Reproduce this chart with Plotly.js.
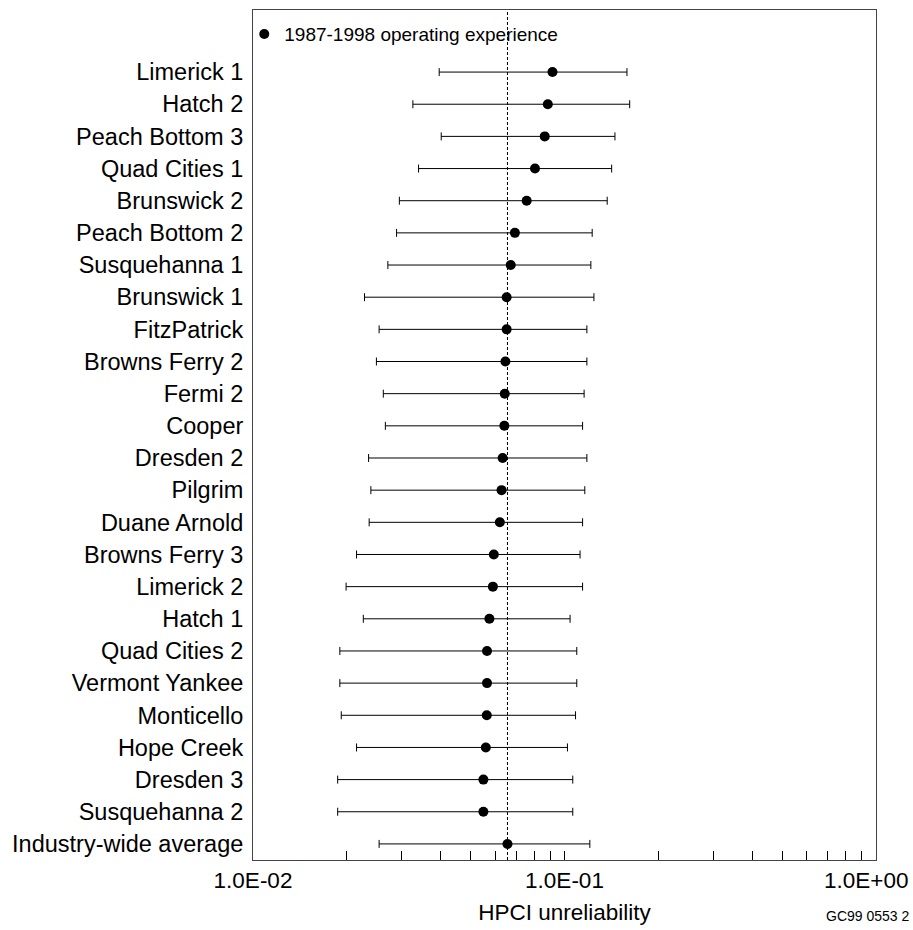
<!DOCTYPE html>
<html>
<head>
<meta charset="utf-8">
<script src="https://cdn.plot.ly/plotly-3.0.1.min.js"></script>
<style>
  html, body { margin: 0; padding: 0; background: #fff; }
  #chart { width: 913px; height: 930px; }
</style>
</head>
<body>
<div id="chart"></div>
<script>
// Plants (top to bottom)
const plants = ["Limerick 1","Hatch 2","Peach Bottom 3","Quad Cities 1","Brunswick 2","Peach Bottom 2",
  "Susquehanna 1","Brunswick 1","FitzPatrick","Browns Ferry 2","Fermi 2","Cooper","Dresden 2","Pilgrim",
  "Duane Arnold","Browns Ferry 3","Limerick 2","Hatch 1","Quad Cities 2","Vermont Yankee","Monticello",
  "Hope Creek","Dresden 3","Susquehanna 2","Industry-wide average"];
// Mean unreliability
const meanVals = [0.0915,0.0884,0.0864,0.0804,0.0756,0.0693,0.0672,0.0652,0.0652,0.0646,0.0643,0.0641,
  0.0633,0.0628,0.0620,0.0593,0.0589,0.0574,0.0564,0.0564,0.0563,0.0559,0.0549,0.0549,0.0656];
// 5th percentile (lower bound)
const lowerVals = [0.0396,0.0326,0.0402,0.0340,0.0295,0.0289,0.0271,0.0228,0.0254,0.0249,0.0262,0.0266,
  0.0235,0.0239,0.0236,0.0215,0.0199,0.0226,0.0190,0.0190,0.0192,0.0215,0.0187,0.0187,0.0254];
// 95th percentile (upper bound)
const upperVals = [0.1587,0.1619,0.1452,0.1417,0.1371,0.1227,0.1215,0.1243,0.1180,0.1180,0.1156,0.1143,
  0.1180,0.1162,0.1143,0.1122,0.1143,0.1042,0.1095,0.1095,0.1085,0.1022,0.1063,0.1063,0.1206];
// Axis tick labels
const tickValues = [0.01, 0.1, 1];
const tickLabels = ["1.0E-02", "1.0E-01", "1.0E+00"];
const seriesName = "1987-1998 operating experience";
const xTitle = "HPCI unreliability";
const figId = "GC99 0553 2";

const industryMean = meanVals[meanVals.length - 1];
const plusErr = upperVals.map((u, i) => u - meanVals[i]);
const minusErr = meanVals.map((m, i) => m - lowerVals[i]);

const FONT = "Liberation Sans, Arial, sans-serif";

// the last tick label sits at the page edge, so it is drawn right-aligned as an annotation
const drawnTickText = tickLabels.map((t, i) => i === tickLabels.length - 1 ? "" : t);

const trace = {
  type: "scatter",
  mode: "markers",
  name: seriesName,
  x: meanVals,
  y: plants,
  marker: { color: "#000", size: 10, symbol: "circle" },
  error_x: {
    type: "data", symmetric: false,
    array: plusErr, arrayminus: minusErr,
    color: "#000", thickness: 1, width: 4
  },
  showlegend: true,
  hoverinfo: "x+y"
};

const layout = {
  width: 913, height: 930,
  margin: { l: 253, r: 37, t: 10, b: 70 },
  paper_bgcolor: "#fff", plot_bgcolor: "#fff",
  font: { family: FONT, color: "#000" },
  showlegend: true,
  legend: {
    x: -0.014, y: 0.994, xanchor: "left", yanchor: "top",
    bgcolor: "rgba(0,0,0,0)", borderwidth: 0,
    font: { family: FONT, size: 19, color: "#000" },
    itemwidth: 30
  },
  xaxis: {
    type: "log",
    range: [-2, 0],
    tickmode: "array", tickvals: tickValues, ticktext: drawnTickText,
    ticks: "inside", ticklen: 9, tickcolor: "#000", tickwidth: 1,
    minor: { dtick: "D1", ticks: "inside", ticklen: 9, tickcolor: "#000", tickwidth: 1, showgrid: false },
    showgrid: false, zeroline: false,
    showline: true, linecolor: "#444", linewidth: 1, mirror: true,
    tickfont: { family: FONT, size: 22.5, color: "#000" },
    title: { text: xTitle, font: { family: FONT, size: 22.5, color: "#000" }, standoff: 12 },
    automargin: false
  },
  yaxis: {
    type: "category",
    categoryorder: "array", categoryarray: plants,
    range: [24.5, -1.93],
    autorange: false,
    ticks: "", showgrid: false, zeroline: false,
    showline: true, linecolor: "#444", linewidth: 1, mirror: true,
    tickfont: { family: FONT, size: 23.5, color: "#000" },
    ticklabelstandoff: 4,
    automargin: false
  },
  shapes: [{
    type: "line", xref: "x", yref: "paper",
    x0: industryMean, x1: industryMean, y0: 0, y1: 1,
    line: { color: "#000", width: 1, dash: "3px,2px" },
    layer: "below"
  }],
  annotations: [
    {
      text: tickLabels[tickLabels.length - 1], xref: "paper", yref: "paper",
      x: 1.0545, y: -0.0245, xanchor: "right", yanchor: "middle",
      showarrow: false, font: { family: FONT, size: 22.5, color: "#000" }
    },
    {
      text: figId, xref: "paper", yref: "paper",
      x: 1.0563, y: -0.0659, xanchor: "right", yanchor: "middle",
      showarrow: false, font: { family: FONT, size: 14, color: "#000" }
    }
  ]
};

Plotly.newPlot("chart", [trace], layout, { displayModeBar: false, staticPlot: true });
</script>
</body>
</html>
